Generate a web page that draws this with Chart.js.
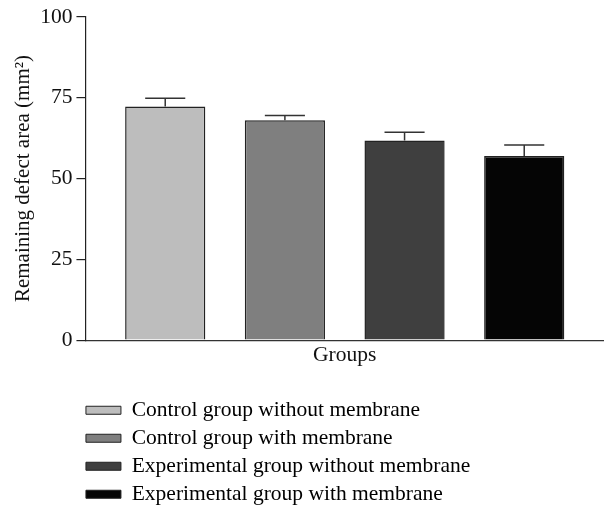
<!DOCTYPE html>
<html>
<head>
<meta charset="utf-8">
<script src="https://cdn.jsdelivr.net/npm/chart.js@4"></script>
<style>
  html, body { margin: 0; padding: 0; background: #fff; }
  #wrap { width: 604px; height: 506px; }
</style>
</head>
<body>
<div id="wrap"><canvas id="myChart"></canvas></div>
<script>
var groups = ['Control group without membrane', 'Control group with membrane',
              'Experimental group without membrane', 'Experimental group with membrane'];
var means = [72.3, 68.0, 61.8, 57.0];
var errors = [2.5, 1.5, 2.5, 3.4];
var colors = ['#bdbdbd', '#7f7f7f', '#3f3f3f', '#050505'];
var yTicks = [0, 25, 50, 75, 100];

Chart.defaults.font.family = "'Liberation Serif', 'DejaVu Serif', serif";
Chart.defaults.font.size = 21.5;
Chart.defaults.color = '#111';

// upward error bars with caps
var errorBars = {
    id: 'errorBars',
    afterDatasetsDraw: function (chart) {
        var ctx = chart.ctx;
        var yScale = chart.scales.y;
        var meta = chart.getDatasetMeta(0);
        ctx.save();
        ctx.strokeStyle = '#333';
        ctx.lineWidth = 1.5;
        meta.data.forEach(function (bar, i) {
            var top = yScale.getPixelForValue(means[i] + errors[i]);
            var half = bar.width / 4;
            ctx.beginPath();
            ctx.moveTo(bar.x, bar.y);
            ctx.lineTo(bar.x, top);
            ctx.moveTo(bar.x - half, top);
            ctx.lineTo(bar.x + half, top);
            ctx.stroke();
        });
        ctx.restore();
    }
};

// small nudge so the legend column sits under the axis like the figure
var legendNudge = {
    id: 'legendNudge',
    afterLayout: function (chart) {
        var lg = chart.legend;
        lg.left -= 6;
        lg.right -= 6;
        lg.top += 9;
        lg.bottom += 9;
    }
};

var ctx = document.getElementById('myChart').getContext('2d');
var myChart = new Chart(ctx, {
    type: 'bar',
    data: {
        labels: groups,
        datasets: [{
            data: means.map(function (m, i) { return {x: i + 1, y: m}; }),
            backgroundColor: colors,
            borderColor: '#222',
            borderWidth: 1.5,
            barPercentage: 1,
            categoryPercentage: 0.67
        }]
    },
    options: {
        responsive: true,
        maintainAspectRatio: false,
        animation: false,
        layout: { padding: { top: 16, right: 0, bottom: 0, left: 0 } },
        scales: {
            x: {
                type: 'linear',
                offset: false,
                min: 1 - 2 / 3,
                max: groups.length + 2 / 3,
                afterBuildTicks: function (scale) {
                    scale.ticks = groups.map(function (g, i) { return {value: i + 1}; });
                },
                grid: { display: false, drawTicks: false },
                border: { display: true, color: '#333', width: 1.2 },
                ticks: { display: false },
                title: {
                    display: true,
                    text: 'Groups',
                    color: '#111',
                    padding: { top: 2, bottom: 16 }
                }
            },
            y: {
                min: 0,
                max: 100,
                afterBuildTicks: function (scale) {
                    scale.ticks = yTicks.map(function (v) { return {value: v}; });
                },
                grid: { drawOnChartArea: false, drawTicks: true, tickLength: 9, color: '#222', lineWidth: 1.2 },
                border: { display: true, color: '#222', width: 1.2 },
                ticks: { padding: 4, color: '#111' },
                title: {
                    display: true,
                    text: 'Remaining defect area (mm\u00b2)',
                    font: { size: 21 },
                    color: '#111',
                    padding: { top: 11, bottom: 0 }
                }
            }
        },
        plugins: {
            tooltip: { enabled: false },
            legend: {
                position: 'bottom',
                align: 'start',
                fullSize: false,
                onClick: null,
                labels: {
                    boxWidth: 35,
                    boxHeight: 8,
                    padding: 6.5,
                    color: '#111',
                    generateLabels: function () {
                        return groups.map(function (g, i) {
                            return {
                                text: g,
                                fillStyle: colors[i],
                                strokeStyle: '#222',
                                lineWidth: 1,
                                hidden: false,
                                index: i,
                                datasetIndex: 0
                            };
                        });
                    }
                }
            }
        }
    },
    plugins: [errorBars, legendNudge]
});
</script>
</body>
</html>
